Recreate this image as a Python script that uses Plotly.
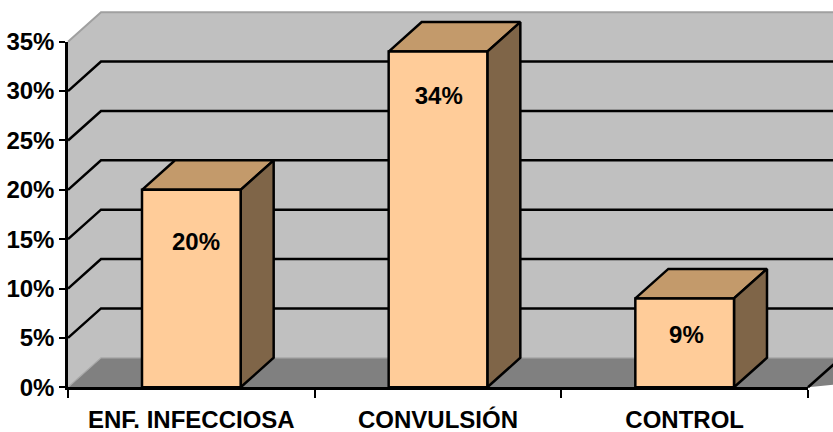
import plotly.graph_objects as go

# Data
categories = ["ENF. INFECCIOSA", "CONVULSIÓN", "CONTROL"]
shares = [0.20, 0.34, 0.09]
y_ticks = [0.0, 0.05, 0.10, 0.15, 0.20, 0.25, 0.30, 0.35]

# Page geometry (px) and the pixel scale shared by both subplots
W, H = 833, 432
X0, XS = 68.0, 740.0 / 3      # px of x=0, px per category
Y0, YS = 387.3, 987.4         # px of y=0, px per unit share
DX, DY = 33.0 / XS, 29.5 / YS # depth offset of the 3D box, in data units
YMAX = y_ticks[-1]
BAR_HALF = 0.2

# Label anchors (data units)
label_x = [0.519, 1.503, 2.507]
label_y = [0.1448, 0.2927, 0.0509]

WALL, FLOOR = "#C0C0C0", "#808080"
FRONT, TOP, SIDE = "#FFCC99", "#C39A6B", "#7F6548"
FONT = dict(family="Liberation Sans, Arial, sans-serif", size=24,
            color="black", weight="bold")

fig = go.Figure()


def poly(xs, ys, fill, line_color=None, width=0.0):
    fig.add_trace(go.Scatter(
        x=xs + [xs[0]], y=ys + [ys[0]], mode="lines", fill="toself",
        fillcolor=fill, line=dict(color=line_color or fill, width=width),
        hoverinfo="skip", showlegend=False))


def seg(xs, ys, color, width):
    fig.add_trace(go.Scatter(
        x=xs, y=ys, mode="lines", line=dict(color=color, width=width),
        hoverinfo="skip", showlegend=False))


n = len(categories)

# Walls and floor
poly([0, 0, DX, DX], [0, YMAX, YMAX + DY, DY], WALL)
poly([DX, n + DX + 1, n + DX + 1, DX], [DY, DY, YMAX + DY, YMAX + DY], WALL)
poly([0, n, n + DX + 1, DX], [0, 0, DY, DY], FLOOR)

# Gridlines on the side and back walls
for v in y_ticks[1:-1]:
    seg([0, DX, n + DX + 1], [v, v + DY, v + DY], "black", 2.5)

# Wall borders
seg([0, DX, n + DX + 1], [YMAX, YMAX + DY, YMAX + DY], "#A0A0A0", 2)
seg([0, DX, n + DX + 1], [0, DY, DY], "#A8A8A8", 1.2)
seg([n, n + DX], [0, DY], "black", 2.5)

# Bar tops and sides
for i, v in enumerate(shares):
    c = i + 0.5
    l, r = c - BAR_HALF, c + BAR_HALF
    poly([l, r, r + DX, l + DX], [v, v, v + DY, v + DY], TOP, "black", 2.5)
    poly([r, r + DX, r + DX, r], [0, DY, v + DY, v], SIDE, "black", 2.5)

# Bar front faces on the front-plane axes
fig.add_trace(go.Bar(
    x=[i + 0.5 for i in range(n)], y=shares, width=2 * BAR_HALF,
    marker=dict(color=FRONT, line=dict(color="black", width=2.5)),
    xaxis="x2", yaxis="y2", hoverinfo="skip", showlegend=False))

fig.add_trace(go.Scatter(
    x=label_x, y=label_y, mode="text",
    text=[f"{round(v * 100)}%" for v in shares],
    textposition="middle center", textfont=FONT,
    xaxis="x2", yaxis="y2", hoverinfo="skip", showlegend=False))

hidden = dict(showgrid=False, zeroline=False, showline=False,
              showticklabels=False, ticks="", fixedrange=True,
              automargin=False)

fig.update_layout(
    template="none",
    width=W, height=H, autosize=False,
    margin=dict(l=0, r=0, t=0, b=0, pad=0, autoexpand=False),
    paper_bgcolor="white", plot_bgcolor="rgba(0,0,0,0)",
    hovermode=False, showlegend=False,
    xaxis=dict(domain=[0, 1], range=[-X0 / XS, (W - X0) / XS], **hidden),
    yaxis=dict(domain=[0, 1], range=[(Y0 - H) / YS, Y0 / YS], **hidden),
    xaxis2=dict(
        domain=[X0 / W, (X0 + n * XS) / W], range=[0, n], anchor="y2",
        showgrid=False, zeroline=False, fixedrange=True, automargin=False,
        showline=True, linecolor="black", linewidth=2.5,
        tickmode="array", tickvals=[i + 0.5 for i in range(n)],
        ticktext=categories, ticks="", tickfont=FONT, ticklabelstandoff=9,
        minor=dict(tickmode="array", tickvals=list(range(n + 1)),
                   ticks="outside", ticklen=8, tickwidth=2,
                   tickcolor="black", showgrid=False)),
    yaxis2=dict(
        domain=[1 - Y0 / H, 1 - (Y0 - YMAX * YS) / H], range=[0, YMAX],
        anchor="x2", showgrid=False, zeroline=False, fixedrange=True,
        automargin=False,
        showline=True, linecolor="black", linewidth=2.5,
        tickmode="array", tickvals=y_ticks, tickformat=".0%",
        ticks="outside", ticklen=6, tickwidth=2, tickcolor="black",
        tickfont=FONT),
)

fig.write_html("out.html")
